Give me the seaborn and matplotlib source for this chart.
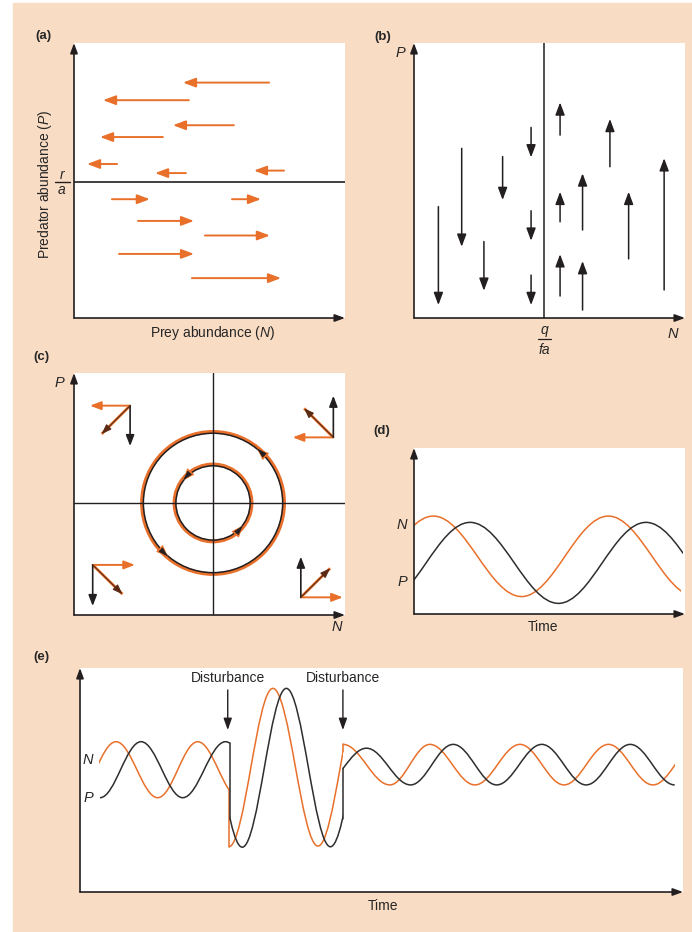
import numpy as np
import matplotlib
matplotlib.use('Agg')
import matplotlib.pyplot as plt
from matplotlib.path import Path
from matplotlib.patches import PathPatch, Rectangle, Ellipse
import seaborn as sns

sns.set_theme(style='white')
plt.rcParams['font.family'] = ['Liberation Sans', 'DejaVu Sans']
plt.rcParams['mathtext.fontset'] = 'custom'
plt.rcParams['mathtext.rm'] = 'Liberation Sans'
plt.rcParams['mathtext.it'] = 'Liberation Sans:italic'

ORANGE = '#e8702a'
DARK = '#231f20'
CURVE_DARK = '#2e2e2e'
PEACH = '#f9dcc4'

# (a) prey isocline: horizontal arrows (row height, tail, head)
a_y = [85.6, 79.2, 70.1, 65.8, 56.0, 52.7, 53.6, 43.2, 43.2, 35.3, 30.0, 23.3, 14.5]
a_tail = [72.0, 42.4, 59.0, 32.8, 15.9, 41.3, 77.5, 14.0, 58.3, 23.6, 48.3, 16.6, 43.5]
a_head = [40.2, 10.7, 36.5, 9.6, 4.8, 29.9, 66.4, 28.0, 69.0, 44.3, 72.3, 44.3, 76.4]
a_isocline = 49.5

# (b) predator isocline: vertical arrows (column, tail, head)
b_x = [9.0, 17.6, 25.8, 32.7, 43.2, 43.2, 43.2, 53.9, 53.9, 53.9, 62.2, 62.2, 72.3, 79.2, 92.3]
b_tail = [40.5, 61.7, 27.8, 58.7, 69.3, 39.0, 15.6, 66.5, 35.0, 8.0, 32.0, 2.9, 55.0, 21.5, 10.2]
b_head = [4.7, 25.9, 9.9, 42.9, 58.4, 28.1, 4.7, 78.4, 45.9, 23.2, 52.6, 20.7, 72.4, 45.9, 58.1]
b_isocline = 48.0

# (c) joint isoclines, cycles and quadrant vectors
c_center_x, c_center_y = 51.3, 46.3
c_ring_w = [51.7, 27.7]
c_ring_h = [57.9, 31.0]
c_origin_x = [20.7, 95.7, 6.9, 83.7]
c_origin_y = [86.5, 73.4, 20.7, 7.3]
c_prey_end_x = [5.9, 80.7, 22.5, 99.2]
c_pred_end_y = [69.8, 90.6, 3.7, 24.1]
c_diag_end_x = [10.2, 84.9, 17.9, 94.5]
c_diag_end_y = [74.8, 85.4, 8.6, 19.3]
c_head_angle = [48, 227, 140, -40]
c_head_ring = [0, 0, 1, 1]

# (d) N and P through time: turning points
d_n_x = [-25.2, 7.13, 39.7, 71.7, 104.0]
d_n_y = [10.5, 59.0, 10.5, 59.0, 10.5]
d_n_span = (0, 98.4)
d_p_x = [-11.75, 20.7, 53.3, 85.6, 118.0]
d_p_y = [6.4, 55.2, 6.4, 55.2, 6.4]
d_p_span = (0, 99.1)

# (e) oscillations with two disturbances: turning points per piece
e_n_x = [[-0.80, 5.98, 12.89, 19.53, 26.38],
         [24.68, 31.99, 39.47, 46.86],
         [43.62, 51.38, 58.02, 65.50, 72.97, 80.28, 87.64, 95.02, 102.38]]
e_n_y = [[42.1, 67.1, 42.1, 67.1, 42.1],
         [20.2, 90.9, 20.5, 90.9],
         [65.9, 47.8, 65.9, 47.8, 65.9, 47.8, 65.9, 47.8, 65.9]]
e_n_span = [(3.21, 24.68), (24.68, 43.62), (43.62, 98.62)]
e_n_jump_x = [24.68, 43.62]
e_n_jump_from = [45.8, 62.5]
e_n_jump_to = [20.2, 65.9]

e_p_x = [[3.32, 10.13, 17.04, 24.14, 31.1],
         [19.60, 26.91, 34.22, 41.53, 48.84],
         [40.2, 47.51, 54.82, 61.89, 69.10, 76.58, 83.94, 91.25, 98.62]]
e_p_y = [[42.1, 67.1, 42.1, 67.1, 42.1],
         [90.9, 20.0, 90.9, 20.2, 90.9],
         [47.8, 64.2, 47.8, 65.9, 47.8, 65.9, 47.8, 65.9, 47.8]]
e_p_span = [(3.32, 24.92), (24.92, 43.6), (43.6, 98.62)]
e_p_jump_x = [24.92, 43.6]
e_p_jump_from = [66.3, 32.5]
e_p_jump_to = [32.1, 55.2]

e_disturb_x = [24.5, 43.6]

W, H = 692, 932
fig = plt.figure(figsize=(W / 100, H / 100), dpi=100)
fig.patches.append(Rectangle((13 / W, 0), 1 - 13 / W, 1 - 3 / H, transform=fig.transFigure,
                             color=PEACH, zorder=-10))


def ftext(x, y, s, **kw):
    fig.text(x / W, 1 - y / H, s, ha='center', va='center', **kw)


def arrow(ax, x0, y0, x1, y1, color, lw=1.3, hl=0.75, hw=0.28, coords='data'):
    ax.annotate('', xy=(x1, y1), xytext=(x0, y0), xycoords=coords, textcoords=coords,
                arrowprops=dict(arrowstyle=f'-|>,head_length={hl},head_width={hw}',
                                color=color, lw=lw, shrinkA=0, shrinkB=0, mutation_scale=10))


def panel(x0, y0, x1, y1):
    ax = fig.add_axes([x0 / W, 1 - y1 / H, (x1 - x0) / W, (y1 - y0) / H])
    ax.set_facecolor('white')
    ax.set_xticks([])
    ax.set_yticks([])
    sns.despine(ax=ax, left=True, bottom=True)
    ax.set_xlim(0, 100)
    ax.set_ylim(0, 100)
    arrow(ax, 0, 0, 0, 1, DARK, lw=1.2, hl=0.6, hw=0.22, coords='axes fraction')
    arrow(ax, 0, 0, 1, 0, DARK, lw=1.2, hl=0.6, hw=0.22, coords='axes fraction')
    return ax


def wave(ax, xs, ys, span, color, lw):
    k = 0.364
    verts = [(xs[0], ys[0])]
    codes = [Path.MOVETO]
    for i in range(len(xs) - 1):
        dx = xs[i + 1] - xs[i]
        verts += [(xs[i] + k * dx, ys[i]), (xs[i + 1] - k * dx, ys[i + 1]), (xs[i + 1], ys[i + 1])]
        codes += [Path.CURVE4] * 3
    patch = PathPatch(Path(verts, codes), fill=False, edgecolor=color, lw=lw)
    ax.add_patch(patch)
    patch.set_clip_path(Rectangle((span[0], -50), span[1] - span[0], 200, transform=ax.transData))


def vline(ax, x, y0, y1, color, lw):
    sns.lineplot(x=[x, x], y=[y0, y1], ax=ax, color=color, lw=lw, estimator=None, sort=False)


def hline(ax, y, x0, x1, color, lw):
    sns.lineplot(x=[x0, x1], y=[y, y], ax=ax, color=color, lw=lw, estimator=None, sort=False)


# ---- (a)
ax = panel(74, 43, 345, 318)
hline(ax, a_isocline, 0, 100, DARK, 1.2)
for y, t, h in zip(a_y, a_tail, a_head):
    arrow(ax, t, y, h, y, ORANGE, lw=1.4)
ax.plot([-7.0, -1.5], [a_isocline, a_isocline], color=DARK, lw=1.0, clip_on=False)
ax.set_xlim(0, 100); ax.set_ylim(0, 100)
ftext(62.5, 175, 'r', fontsize=10, fontstyle='italic')
ftext(62, 190, 'a', fontsize=10, fontstyle='italic')
ftext(45, 184, 'Predator abundance ($P$)', fontsize=10, rotation=90)
ftext(213, 333, 'Prey abundance ($N$)', fontsize=10)
ftext(43, 36, '(a)', fontsize=9.5, fontweight='bold')

# ---- (b)
ax = panel(414, 43, 685, 318)
vline(ax, b_isocline, 0, 100, DARK, 1.1)
for x, t, h in zip(b_x, b_tail, b_head):
    arrow(ax, x, t, x, h, DARK, lw=1.1)
ax.plot([b_isocline - 2.4, b_isocline + 2.4], [-7.6, -7.6], color=DARK, lw=0.9, clip_on=False)
ax.set_xlim(0, 100); ax.set_ylim(0, 100)
ftext(544.5, 330, 'q', fontsize=10, fontstyle='italic')
ftext(544.5, 350, 'fa', fontsize=10, fontstyle='italic')
ftext(400, 53, 'P', fontsize=10.5, fontstyle='italic')
ftext(673, 334, 'N', fontsize=10.5, fontstyle='italic')
ftext(383, 37, '(b)', fontsize=9.5, fontweight='bold')

# ---- (c)
ax = panel(74, 373, 345, 615)
vline(ax, c_center_x, 0, 100, DARK, 1.0)
hline(ax, c_center_y, 0, 100, DARK, 1.0)
for w, h in zip(c_ring_w, c_ring_h):
    ax.add_patch(Ellipse((c_center_x, c_center_y), w + 0.8, h + 0.9, fill=False,
                         edgecolor=ORANGE, lw=2.6))
    ax.add_patch(Ellipse((c_center_x, c_center_y), w - 0.3, h - 0.3, fill=False,
                         edgecolor=DARK, lw=1.1))
for ang, ring in zip(c_head_angle, c_head_ring):
    ra, rb = c_ring_w[ring] / 2, c_ring_h[ring] / 2
    t0, t1 = np.deg2rad(ang - 5), np.deg2rad(ang + 3)
    p0 = (c_center_x + ra * np.cos(t0), c_center_y + rb * np.sin(t0))
    p1 = (c_center_x + ra * np.cos(t1), c_center_y + rb * np.sin(t1))
    arrow(ax, *p0, *p1, ORANGE, lw=0.6, hl=0.75, hw=0.3)
    arrow(ax, *p0, *p1, DARK, lw=0.6, hl=0.6, hw=0.17)
for ox, oy, nx, py, dx, dy in zip(c_origin_x, c_origin_y, c_prey_end_x, c_pred_end_y,
                                  c_diag_end_x, c_diag_end_y):
    arrow(ax, ox, oy, nx, oy, ORANGE, lw=1.4, hl=0.65, hw=0.25)
    arrow(ax, ox, oy, ox, py, DARK, lw=1.2, hl=0.65, hw=0.25)
    ax.plot([ox, dx], [oy, dy], color=ORANGE, lw=2.0, solid_capstyle='butt')
    arrow(ax, ox, oy, dx, dy, '#5a2a14', lw=0.8, hl=0.6, hw=0.22)
ax.set_xlim(0, 100); ax.set_ylim(0, 100)
ftext(59, 383, 'P', fontsize=10.5, fontstyle='italic')
ftext(337, 627, 'N', fontsize=10.5, fontstyle='italic')
ftext(41, 357, '(c)', fontsize=9.5, fontweight='bold')

# ---- (d)
ax = panel(414, 448, 685, 614)
wave(ax, d_n_x, d_n_y, d_n_span, ORANGE, 1.1)
wave(ax, d_p_x, d_p_y, d_p_span, CURVE_DARK, 1.1)
ftext(402, 525, 'N', fontsize=10.5, fontstyle='italic')
ftext(402, 582, 'P', fontsize=10.5, fontstyle='italic')
ftext(543, 627, 'Time', fontsize=10)
ftext(382, 431, '(d)', fontsize=9.5, fontweight='bold')

# ---- (e)
ax = panel(80, 668, 683, 892)
for xs, ys, span in zip(e_n_x, e_n_y, e_n_span):
    wave(ax, xs, ys, span, ORANGE, 1.1)
for xs, ys, span in zip(e_p_x, e_p_y, e_p_span):
    wave(ax, xs, ys, span, CURVE_DARK, 1.1)
for x, y0, y1 in zip(e_n_jump_x, e_n_jump_from, e_n_jump_to):
    vline(ax, x, y0, y1, ORANGE, 1.1)
for x, y0, y1 in zip(e_p_jump_x, e_p_jump_from, e_p_jump_to):
    vline(ax, x, y0, y1, CURVE_DARK, 1.1)
for x in e_disturb_x:
    arrow(ax, x, 90.2, x, 72.3, DARK, lw=1.0, hl=0.7, hw=0.25)
    ax.text(x, 95.5, 'Disturbance', ha='center', va='center', fontsize=10)
ax.set_xlim(0, 100); ax.set_ylim(0, 100)
ftext(88, 760, 'N', fontsize=10.5, fontstyle='italic')
ftext(88, 798, 'P', fontsize=10.5, fontstyle='italic')
ftext(383, 906, 'Time', fontsize=10)
ftext(41, 657, '(e)', fontsize=9.5, fontweight='bold')

fig.savefig('out.png', dpi=100)
